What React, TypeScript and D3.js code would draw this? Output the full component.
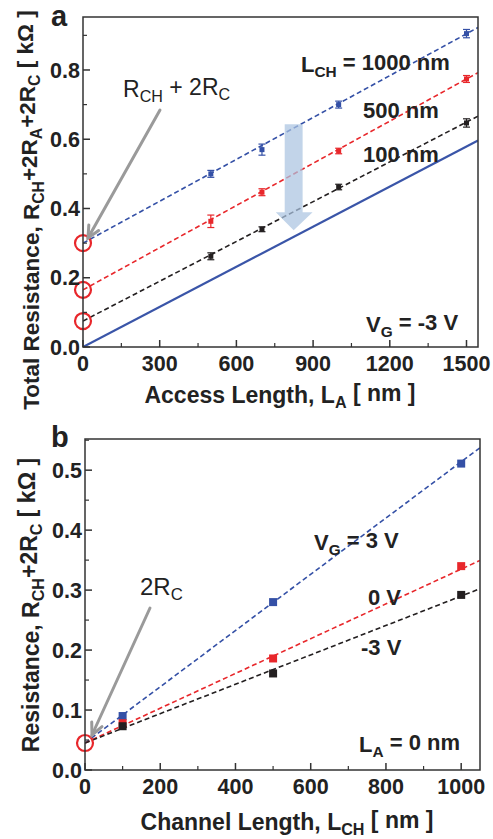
import * as d3 from "d3";

// ---- panel a data: total resistance vs access length ----
const accessLength = [500, 700, 1000, 1500];
const seriesA = ["1000 nm", "500 nm", "100 nm"];
const resA1000 = [0.5, 0.57, 0.7, 0.905];
const resA500 = [0.363, 0.447, 0.566, 0.774];
const resA100 = [0.262, 0.34, 0.462, 0.647];
const errA1000 = [0.01, 0.016, 0.01, 0.012];
const errA500 = [0.018, 0.01, 0.008, 0.01];
const errA100 = [0.01, 0.007, 0.008, 0.012];
const interceptA = [0.3, 0.165, 0.075];
const slopeA = [0.000403, 0.000406, 0.000383];
const accessSlope = 0.000386; // 2R_A line
const xTicksA = [0, 300, 600, 900, 1200, 1500];
const yTicksA = [0.0, 0.2, 0.4, 0.6, 0.8];

// ---- panel b data: resistance vs channel length ----
const channelLength = [100, 500, 1000];
const seriesB = ["3 V", "0 V", "-3 V"];
const resB3 = [0.09, 0.28, 0.511];
const resB0 = [0.078, 0.186, 0.34];
const resBm3 = [0.073, 0.161, 0.292];
const interceptB = [0.045, 0.045, 0.045];
const slopeB = [0.000469, 0.00029, 0.000245];
const xTicksB = [0, 200, 400, 600, 800, 1000];
const yTicksB = [0.0, 0.1, 0.2, 0.3, 0.4, 0.5];

const colors = ["#3450a6", "#e8272b", "#231f20"];
const font = "'Liberation Sans', Arial, sans-serif";

function GreyArrow({ x1, y1, x2, y2 }) {
  const a = Math.atan2(y2 - y1, x2 - x1);
  const len = 13;
  const h1 = [x2 - len * Math.cos(a - 0.45), y2 - len * Math.sin(a - 0.45)];
  const h2 = [x2 - len * Math.cos(a + 0.45), y2 - len * Math.sin(a + 0.45)];
  return (
    <g stroke="#9a9a9a" strokeWidth={3} fill="none" strokeLinecap="round">
      <line x1={x1} y1={y1} x2={x2} y2={y2} />
      <polyline points={`${h1[0]},${h1[1]} ${x2},${y2} ${h2[0]},${h2[1]}`} />
    </g>
  );
}

function Frame({ x, y, xTicks, yTicks, xMinor, yMinor, yFmt }) {
  const [x0, x1] = x.range();
  const [y0, y1] = y.range();
  return (
    <g fontFamily={font} fontWeight="bold" fontSize={21.5} fill="#222">
      <rect x={x0} y={y1} width={x1 - x0} height={y0 - y1} fill="none" stroke="#333" strokeWidth={1.5} />
      {xMinor.map((t) => (
        <line key={"xm" + t} x1={x(t)} x2={x(t)} y1={y0} y2={y0 - 4} stroke="#333" strokeWidth={1.2} />
      ))}
      {yMinor.map((t) => (
        <line key={"ym" + t} x1={x0} x2={x0 + 4} y1={y(t)} y2={y(t)} stroke="#333" strokeWidth={1.2} />
      ))}
      {xTicks.map((t) => (
        <g key={"x" + t}>
          <line x1={x(t)} x2={x(t)} y1={y0} y2={y0 - 7} stroke="#333" strokeWidth={1.5} />
          <text x={x(t)} y={y0 + 24} textAnchor="middle">{t}</text>
        </g>
      ))}
      {yTicks.map((t) => (
        <g key={"y" + t}>
          <line x1={x0} x2={x0 + 7} y1={y(t)} y2={y(t)} stroke="#333" strokeWidth={1.5} />
          <text x={x0 - 3} y={y(t)} dy="0.36em" textAnchor="end">{yFmt(t)}</text>
        </g>
      ))}
    </g>
  );
}

export default function App() {
  const width = 493;
  const height = 839;
  const fmt = d3.format(".1f");

  // panel a scales
  const xA = d3.scaleLinear().domain([0, 1545]).range([83, 478]);
  const yA = d3.scaleLinear().domain([0, 0.953]).range([347, 17]);
  const dataA = [resA1000, resA500, resA100];
  const errsA = [errA1000, errA500, errA100];
  const xMaxA = xA.domain()[1];

  // panel b scales
  const xB = d3.scaleLinear().domain([0, 1050]).range([85, 480]);
  const yB = d3.scaleLinear().domain([0, 0.552]).range([770, 439]);
  const dataB = [resB3, resB0, resBm3];
  const xMaxB = xB.domain()[1];

  const sub = (main, s, rest) => (
    <>
      {main}
      <tspan fontSize="0.7em" dy="0.3em">{s}</tspan>
      <tspan dy="-0.3em">{rest}</tspan>
    </>
  );

  // big light blue arrow (data coords)
  const arrow = [
    [789, 0.643], [859, 0.643], [859, 0.389], [898, 0.389], [824, 0.337],
    [754, 0.389], [789, 0.389],
  ].map(([a, b]) => `${xA(a)},${yA(b)}`).join(" ");

  return (
    <svg width={width} height={height} style={{ position: "absolute", left: 0, top: 0, background: "#fff" }}>
      <defs>
        <clipPath id="clipA">
          <rect x={83} y={17} width={395} height={330} />
        </clipPath>
        <clipPath id="clipB">
          <rect x={85} y={439} width={395} height={331} />
        </clipPath>
      </defs>

      {/* ===== Panel a ===== */}
      <g clipPath="url(#clipA)">
        <line x1={xA(0)} y1={yA(0)} x2={xA(xMaxA)} y2={yA(accessSlope * xMaxA)} stroke="#3a55a8" strokeWidth={2.2} />
        {seriesA.map((s, i) => (
          <line key={s} x1={xA(0)} y1={yA(interceptA[i])} x2={xA(xMaxA)} y2={yA(interceptA[i] + slopeA[i] * xMaxA)}
            stroke={colors[i]} strokeWidth={1.6} strokeDasharray="5,3" />
        ))}
        <polygon points={arrow} fill="#aac3e0" opacity={0.72} />
        {seriesA.map((s, i) => (
          <g key={s} stroke={colors[i]} fill={colors[i]}>
            {accessLength.map((l, j) => {
              const cx = xA(l);
              const top = yA(dataA[i][j] + errsA[i][j]);
              const bot = yA(dataA[i][j] - errsA[i][j]);
              return (
                <g key={l}>
                  <line x1={cx} x2={cx} y1={top} y2={bot} strokeWidth={1.2} />
                  <line x1={cx - 3.5} x2={cx + 3.5} y1={top} y2={top} strokeWidth={1.2} />
                  <line x1={cx - 3.5} x2={cx + 3.5} y1={bot} y2={bot} strokeWidth={1.2} />
                  <rect x={cx - 2.5} y={yA(dataA[i][j]) - 2.5} width={5} height={5} stroke="none" />
                </g>
              );
            })}
          </g>
        ))}
      </g>
      {interceptA.map((v) => (
        <circle key={v} cx={xA(0)} cy={yA(v)} r={8} fill="none" stroke="#e8272b" strokeWidth={2.2} />
      ))}

      <Frame x={xA} y={yA} xTicks={xTicksA} yTicks={yTicksA}
        xMinor={[150, 450, 750, 1050, 1350]} yMinor={[0.1, 0.3, 0.5, 0.7, 0.9]} yFmt={fmt} />

      <g fontFamily={font} fontWeight="bold" fontSize={22} fill="#222">
        <text x={51} y={26} fontSize={29}>a</text>
        <text x={301} y={72}>{sub("L", "CH", " = 1000 nm")}</text>
        <text x={363} y={118}>500 nm</text>
        <text x={363} y={162}>100 nm</text>
        <text x={366} y={332}>{sub("V", "G", " =  -3 V")}</text>
        <text x={123} y={97} fontWeight="normal" fontSize={23}>{sub("R", "CH", " + 2R")}<tspan fontSize="0.7em" dy="0.3em">C</tspan></text>
        <text x={280} y={403} textAnchor="middle" fontSize={23}>
          Access Length, {sub("L", "A", " [ nm ]")}
        </text>
        <text transform="translate(39,210) rotate(-90)" textAnchor="middle" fontSize={22.5}>
          Total Resistance, R<tspan fontSize="0.7em" dy="0.3em">CH</tspan>
          <tspan dy="-0.3em">+2R</tspan><tspan fontSize="0.7em" dy="0.3em">A</tspan>
          <tspan dy="-0.3em">+2R</tspan><tspan fontSize="0.7em" dy="0.3em">C</tspan>
          <tspan dy="-0.3em"> [ kΩ ]</tspan>
        </text>
      </g>
      <GreyArrow x1={160} y1={110} x2={88} y2={238} />

      {/* ===== Panel b ===== */}
      <g clipPath="url(#clipB)">
        {seriesB.map((s, i) => (
          <line key={s} x1={xB(0)} y1={yB(interceptB[i])} x2={xB(xMaxB)} y2={yB(interceptB[i] + slopeB[i] * xMaxB)}
            stroke={colors[i]} strokeWidth={1.6} strokeDasharray="5,3" />
        ))}
        {seriesB.map((s, i) => (
          <g key={s} fill={colors[i]}>
            {channelLength.map((l, j) => (
              <rect key={l} x={xB(l) - 4} y={yB(dataB[i][j]) - 4} width={8} height={8} />
            ))}
          </g>
        ))}
      </g>
      <circle cx={xB(0)} cy={yB(interceptB[0])} r={8} fill="none" stroke="#e8272b" strokeWidth={2.2} />

      <Frame x={xB} y={yB} xTicks={xTicksB} yTicks={yTicksB}
        xMinor={[100, 300, 500, 700, 900]} yMinor={[0.05, 0.15, 0.25, 0.35, 0.45, 0.55]} yFmt={fmt} />

      <g fontFamily={font} fontWeight="bold" fontSize={22} fill="#222">
        <text x={51} y={447} fontSize={29}>b</text>
        <text x={314} y={550}>{sub("V", "G", " = 3 V")}</text>
        <text x={368} y={605}>0 V</text>
        <text x={361} y={655}>-3 V</text>
        <text x={359} y={752}>{sub("L", "A", " = 0 nm")}</text>
        <text x={140} y={595} fontWeight="normal" fontSize={24}>2R<tspan fontSize="0.7em" dy="0.3em">C</tspan></text>
        <text x={287} y={830} textAnchor="middle" fontSize={23}>
          Channel Length, {sub("L", "CH", " [ nm ]")}
        </text>
        <text transform="translate(39,605) rotate(-90)" textAnchor="middle" fontSize={23}>
          Resistance, R<tspan fontSize="0.7em" dy="0.3em">CH</tspan>
          <tspan dy="-0.3em">+2R</tspan><tspan fontSize="0.7em" dy="0.3em">C</tspan>
          <tspan dy="-0.3em"> [ kΩ ]</tspan>
        </text>
      </g>
      <GreyArrow x1={150} y1={608} x2={92} y2={735} />
    </svg>
  );
}
